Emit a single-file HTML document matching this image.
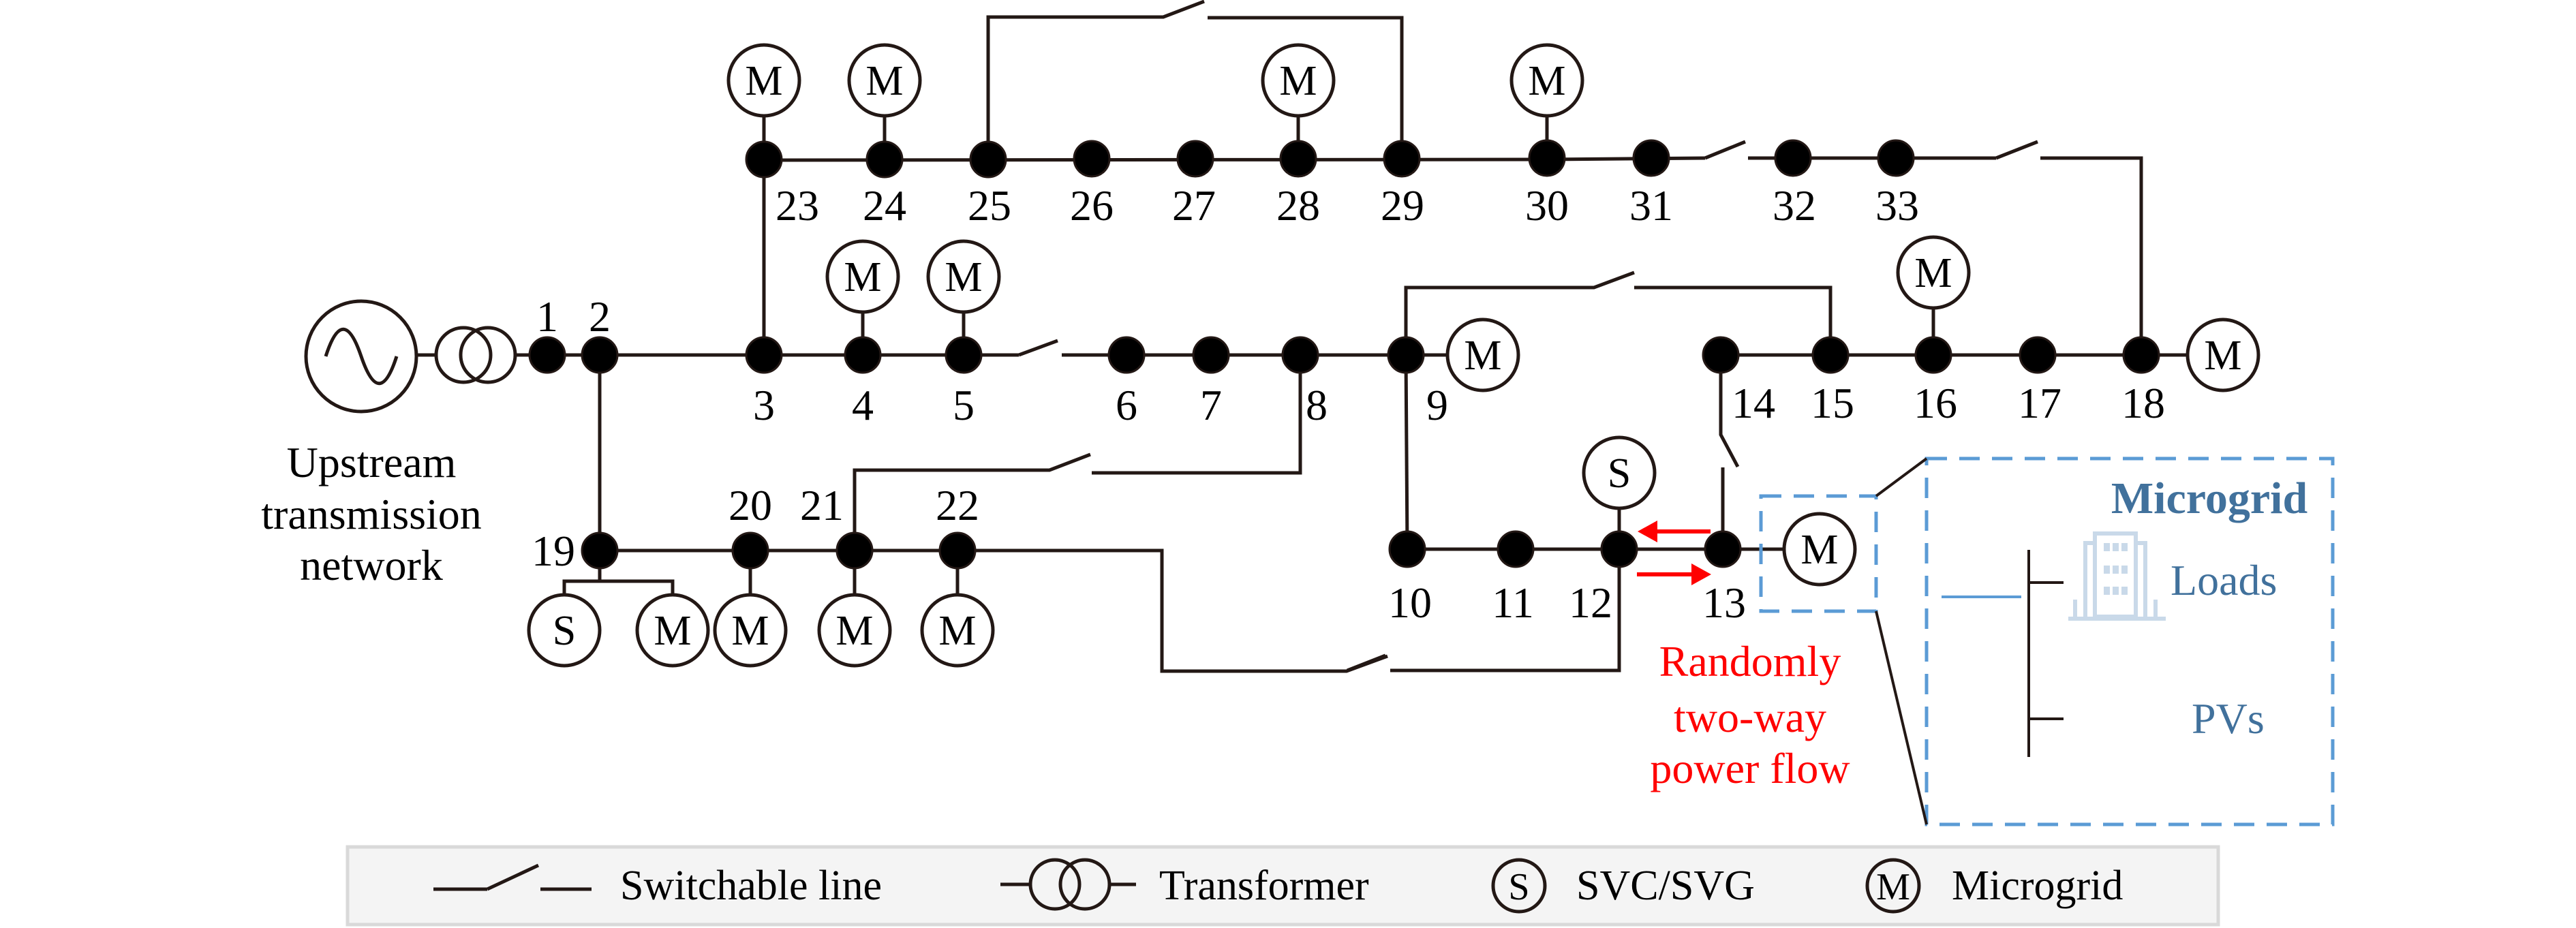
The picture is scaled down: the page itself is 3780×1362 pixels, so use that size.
<!DOCTYPE html>
<html><head><meta charset="utf-8"><style>
html,body{margin:0;padding:0;background:#fff;}
svg{display:block;}
text{font-family:"Liberation Serif",serif;}
</style></head><body>
<svg width="3780" height="1362" viewBox="0 0 3780 1362" xmlns="http://www.w3.org/2000/svg">
<g stroke="#231815" stroke-width="5" fill="none">
<circle cx="530" cy="523" r="81"/>
<path d="M478,523 C495,470 512,470 530,523 C548,576 565,576 582,523"/>
<line x1="611" y1="521" x2="640" y2="521"/>
<circle cx="680" cy="521" r="40"/>
<circle cx="716" cy="521" r="40"/>
<line x1="756" y1="521" x2="803" y2="521"/>
<line x1="803" y1="521" x2="1495" y2="521"/>
<line x1="1495" y1="521" x2="1552" y2="500"/>
<line x1="1558" y1="521" x2="2176" y2="521"/>
<line x1="1121" y1="521" x2="1121" y2="235"/>
<line x1="1121" y1="235" x2="2270" y2="234"/>
<line x1="2270" y1="234" x2="2502" y2="232"/>
<line x1="2502" y1="232" x2="2561" y2="208"/>
<line x1="2565" y1="232" x2="2929" y2="232"/>
<line x1="2929" y1="232" x2="2990" y2="208"/>
<polyline points="2994,232 3142,232 3142,521"/>
<polyline points="1450,235 1450,25 1707,25 1767,2"/>
<polyline points="1772,26 2057,26 2057,235"/>
<line x1="1121" y1="235" x2="1121" y2="170"/><line x1="1298" y1="235" x2="1298" y2="170"/>
<line x1="1905" y1="235" x2="1905" y2="170"/><line x1="2270" y1="235" x2="2270" y2="170"/>
<line x1="1266" y1="521" x2="1266" y2="458"/><line x1="1414" y1="521" x2="1414" y2="458"/>
<line x1="2837" y1="521" x2="2837" y2="452"/>
<polyline points="2063,521 2063,422 2339,422 2398,400"/>
<polyline points="2398,422 2686,422 2686,521"/>
<line x1="2525" y1="521" x2="3210" y2="521"/>
<polyline points="2525,521 2525,638 2550,685"/>
<line x1="2528" y1="686" x2="2528" y2="806"/>
<line x1="2063" y1="521" x2="2065" y2="806"/>
<line x1="2065" y1="806" x2="2618" y2="806"/>
<line x1="2376" y1="806" x2="2376" y2="746"/>
<polyline points="2376,806 2376,984 2040,984"/>
<line x1="2033" y1="962" x2="1977" y2="984"/>
<polyline points="1908,521 1908,694 1602,694"/>
<polyline points="1600,667 1540,690 1254,690 1254,808"/>
<line x1="880" y1="521" x2="880" y2="808"/>
<polyline points="880,808 1705,808 1705,985 1976,985 2036,963"/>
<polyline points="880,808 880,853"/>
<polyline points="828,873 828,853 987,853 987,873"/>
<line x1="1101" y1="808" x2="1101" y2="873"/><line x1="1254" y1="808" x2="1254" y2="873"/><line x1="1405" y1="808" x2="1405" y2="873"/>
<circle cx="1121" cy="118" r="52" fill="#fff"/><circle cx="1298" cy="118" r="52" fill="#fff"/>
<circle cx="1905" cy="118" r="52" fill="#fff"/><circle cx="2270" cy="118" r="52" fill="#fff"/>
<circle cx="1266" cy="406" r="52" fill="#fff"/><circle cx="1414" cy="406" r="52" fill="#fff"/>
<circle cx="2176" cy="521" r="52" fill="#fff"/><circle cx="2837" cy="400" r="52" fill="#fff"/>
<line x1="3142" y1="521" x2="3210" y2="521"/>
<circle cx="3262" cy="521" r="52" fill="#fff"/>
<circle cx="2376" cy="694" r="52" fill="#fff"/>
<line x1="2528" y1="806" x2="2618" y2="806"/>
<circle cx="2670" cy="806" r="52" fill="#fff"/>
<circle cx="828" cy="925" r="52" fill="#fff"/><circle cx="987" cy="925" r="52" fill="#fff"/>
<circle cx="1101" cy="925" r="52" fill="#fff"/><circle cx="1254" cy="925" r="52" fill="#fff"/><circle cx="1405" cy="925" r="52" fill="#fff"/>
</g>
<g fill="#000" stroke="#231815" stroke-width="3">
<circle cx="803" cy="521" r="26"/><circle cx="880" cy="521" r="26"/><circle cx="1121" cy="521" r="26"/>
<circle cx="1266" cy="521" r="26"/><circle cx="1414" cy="521" r="26"/><circle cx="1653" cy="521" r="26"/>
<circle cx="1777" cy="521" r="26"/><circle cx="1908" cy="521" r="26"/><circle cx="2063" cy="521" r="26"/>
<circle cx="1121" cy="234" r="26"/><circle cx="1298" cy="234" r="26"/><circle cx="1450" cy="234" r="26"/>
<circle cx="1602" cy="233" r="26"/><circle cx="1754" cy="233" r="26"/><circle cx="1905" cy="233" r="26"/>
<circle cx="2057" cy="233" r="26"/><circle cx="2270" cy="232" r="26"/><circle cx="2423" cy="232" r="26"/>
<circle cx="2631" cy="232" r="26"/><circle cx="2782" cy="232" r="26"/>
<circle cx="2525" cy="521" r="26"/><circle cx="2686" cy="521" r="26"/><circle cx="2837" cy="521" r="26"/>
<circle cx="2990" cy="521" r="26"/><circle cx="3142" cy="521" r="26"/>
<circle cx="2065" cy="806" r="26"/><circle cx="2224" cy="806" r="26"/><circle cx="2376" cy="806" r="26"/><circle cx="2528" cy="806" r="26"/>
<circle cx="880" cy="808" r="26"/><circle cx="1101" cy="808" r="26"/><circle cx="1254" cy="808" r="26"/><circle cx="1405" cy="808" r="26"/>
</g>
<g stroke="#f00" stroke-width="6" fill="#f00">
<line x1="2510" y1="780" x2="2425" y2="780"/><polygon points="2403,780 2432,764 2432,796" stroke="none"/>
<line x1="2402" y1="843" x2="2490" y2="843"/><polygon points="2511,843 2482,827 2482,859" stroke="none"/>
</g>
<g font-size="62" text-anchor="middle" fill="#000">
<text x="1121" y="139">M</text><text x="1298" y="139">M</text><text x="1905" y="139">M</text><text x="2270" y="139">M</text>
<text x="1266" y="427">M</text><text x="1414" y="427">M</text><text x="2176" y="542">M</text><text x="2837" y="421">M</text>
<text x="3262" y="542">M</text><text x="2376" y="715">S</text><text x="2670" y="827">M</text>
<text x="828" y="946">S</text><text x="987" y="946">M</text><text x="1101" y="946">M</text><text x="1254" y="946">M</text><text x="1405" y="946">M</text>
</g>
<g font-size="64" text-anchor="middle" fill="#000">
<text x="803" y="486">1</text><text x="880" y="486">2</text>
<text x="1170" y="323">23</text><text x="1298" y="323">24</text><text x="1452" y="323">25</text><text x="1602" y="323">26</text>
<text x="1752" y="323">27</text><text x="1905" y="323">28</text><text x="2058" y="323">29</text><text x="2270" y="323">30</text>
<text x="2423" y="323">31</text><text x="2633" y="323">32</text><text x="2784" y="323">33</text>
<text x="1121" y="616">3</text><text x="1266" y="616">4</text><text x="1414" y="616">5</text><text x="1653" y="616">6</text>
<text x="1777" y="616">7</text><text x="1932" y="616">8</text><text x="2109" y="616">9</text>
<text x="2573" y="613">14</text><text x="2689" y="613">15</text><text x="2840" y="613">16</text><text x="2993" y="613">17</text><text x="3145" y="613">18</text>
<text x="2069" y="906">10</text><text x="2220" y="906">11</text><text x="2334" y="906">12</text><text x="2530" y="906">13</text>
<text x="812" y="830">19</text><text x="1101" y="763">20</text><text x="1206" y="763">21</text><text x="1405" y="763">22</text>
<text x="545" y="700">Upstream</text><text x="545" y="776">transmission</text><text x="545" y="851">network</text>
</g>
<g font-size="64" text-anchor="middle" fill="#f00">
<text x="2568" y="992">Randomly</text><text x="2568" y="1074">two-way</text><text x="2568" y="1149">power flow</text>
</g>
<g stroke="#5b9bd5" stroke-width="5" fill="none" stroke-dasharray="30,18">
<rect x="2584" y="728" width="169" height="169"/>
<rect x="2827" y="673" width="596" height="537"/>
</g>
<g stroke="#231815" stroke-width="4">
<line x1="2753" y1="728" x2="2827" y2="673"/><line x1="2753" y1="897" x2="2827" y2="1210"/>
<line x1="2977" y1="807" x2="2977" y2="1111"/>
<line x1="2977" y1="855" x2="3028" y2="855"/><line x1="2977" y1="1055" x2="3028" y2="1055"/>
</g>
<line x1="2849" y1="876" x2="2966" y2="876" stroke="#5b9bd5" stroke-width="4"/>
<g fill="none" stroke="#c9d9e9" stroke-width="6">
<rect x="3074" y="783" width="60" height="122"/>
<polyline points="3060,905 3060,797 3074,797"/><polyline points="3148,905 3148,797 3134,797"/>
<line x1="3035" y1="908" x2="3178" y2="908"/>
<line x1="3045" y1="908" x2="3045" y2="880"/><line x1="3163" y1="908" x2="3163" y2="880"/>
</g>
<g fill="#c9d9e9">
<rect x="3087" y="797" width="9" height="12"/><rect x="3100" y="797" width="9" height="12"/><rect x="3113" y="797" width="9" height="12"/>
<rect x="3087" y="830" width="9" height="12"/><rect x="3100" y="830" width="9" height="12"/><rect x="3113" y="830" width="9" height="12"/>
<rect x="3087" y="861" width="9" height="12"/><rect x="3100" y="861" width="9" height="12"/><rect x="3113" y="861" width="9" height="12"/>
</g>
<text x="3242" y="753" font-size="66" font-weight="bold" fill="#41719c" text-anchor="middle">Microgrid</text>
<text x="3185" y="873" font-size="64" fill="#41719c">Loads</text>
<text x="3216" y="1076" font-size="64" fill="#41719c">PVs</text>
<rect x="510" y="1243" width="2745" height="114" fill="#f4f4f4" stroke="#d9d9d9" stroke-width="5"/>
<g stroke="#231815" stroke-width="5" fill="none">
<line x1="636" y1="1305" x2="715" y2="1305"/><line x1="715" y1="1305" x2="790" y2="1270"/>
<line x1="793" y1="1305" x2="868" y2="1305"/>
<line x1="1468" y1="1298" x2="1512" y2="1298"/>
<circle cx="1548" cy="1298" r="36"/><circle cx="1592" cy="1298" r="36"/>
<line x1="1628" y1="1298" x2="1667" y2="1298"/>
<circle cx="2229" cy="1300" r="38"/><circle cx="2778" cy="1300" r="38"/>
</g>
<g font-size="62" fill="#000">
<text x="910" y="1320">Switchable line</text>
<text x="1701" y="1320">Transformer</text>
<text x="2313" y="1320">SVC/SVG</text>
<text x="2864" y="1320">Microgrid</text>
<text x="2229" y="1320" text-anchor="middle" font-size="56">S</text>
<text x="2778" y="1320" text-anchor="middle" font-size="56">M</text>
</g>
</svg>
</body></html>
